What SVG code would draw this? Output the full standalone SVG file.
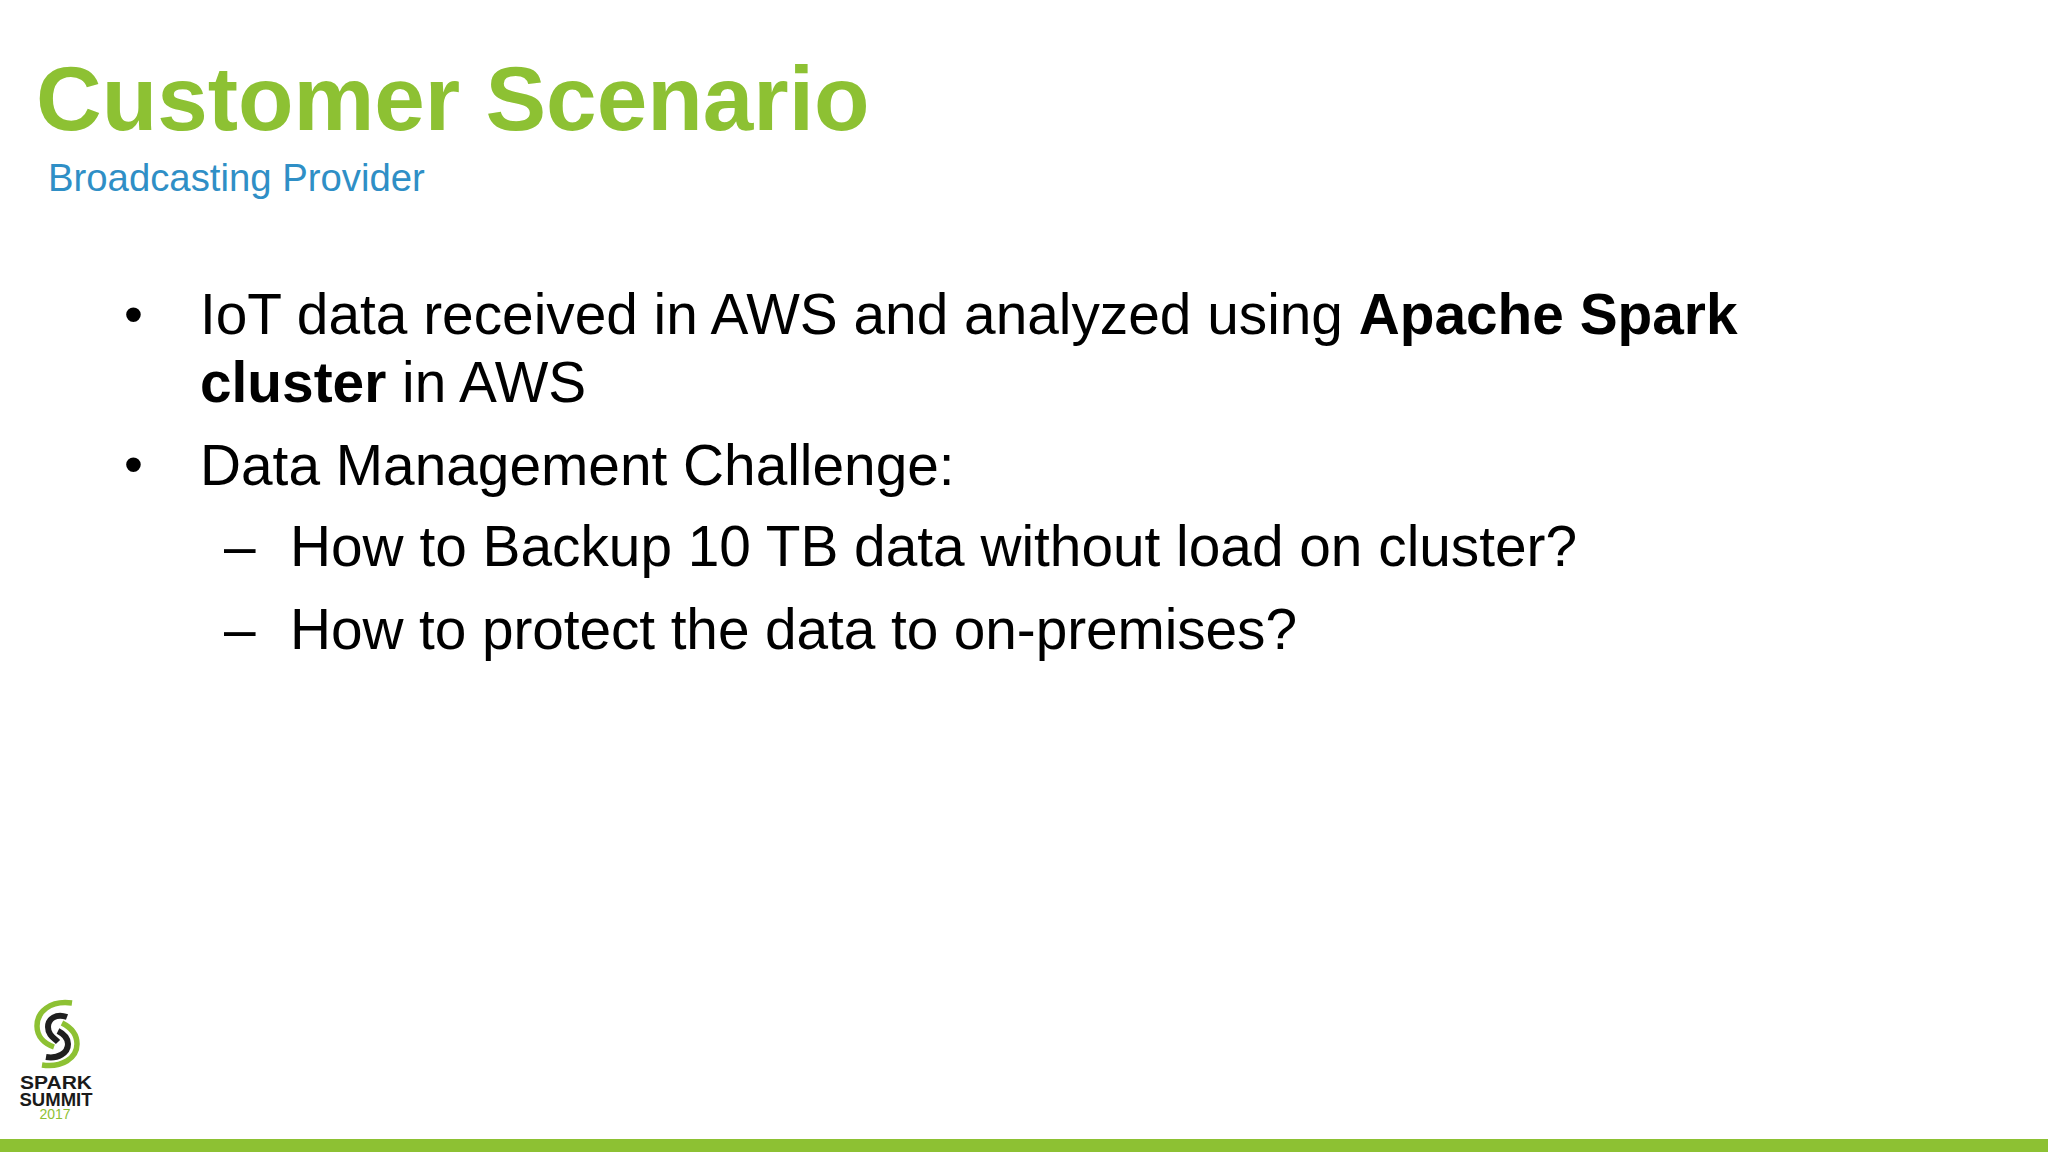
<svg xmlns="http://www.w3.org/2000/svg" width="2048" height="1152" viewBox="0 0 2048 1152">
<style>
text{font-family:"Liberation Sans",Arial,sans-serif}
.b{font-size:56.8px;fill:#000}
.d{font-size:54px;fill:#000}
.g{fill:none;stroke:#8dc133;stroke-width:5.5}
.k{fill:none;stroke:#1f1f1f;stroke-width:6}
.l{font-weight:700;fill:#1a1a1a;text-anchor:middle}
</style>
<rect width="2048" height="1152" fill="#fff"/>
<text x="36" y="130" font-size="90.9" font-weight="700" fill="#8dc133">Customer Scenario</text>
<text x="48" y="191" font-size="38.3" fill="#2f8fc6">Broadcasting Provider</text>
<g id="bullets">
<text class="d" x="124" y="333">•</text>
<text class="b" x="200" y="334">IoT data received in AWS and analyzed using <tspan font-weight="700">Apache Spark</tspan></text>
<text class="b" x="200" y="402"><tspan font-weight="700">cluster</tspan> in AWS</text>
<text class="d" x="124" y="483">•</text>
<text class="b" x="200" y="485">Data Management Challenge:</text>
<text class="b" x="224" y="566">–</text>
<text class="b" x="290" y="566">How to Backup 10 TB data without load on cluster?</text>
<text class="b" x="224" y="649">–</text>
<text class="b" x="290" y="649" textLength="1007">How to protect the data to on-premises?</text>
</g>
<g id="logo">
<path class="g" d="M72 1003C50 1000 37 1012 37 1026C37 1037 45 1044 54 1047"/>
<path class="g" d="M62 1023C72 1028 77 1036 77 1044C77 1058 62 1068 42 1065"/>
<path class="k" d="M67 1017C56 1013 48 1019 48 1027C48 1035 54 1038 58 1042"/>
<path class="k" d="M58 1031C64 1034 68 1039 68 1044C68 1053 58 1059 46 1057"/>
<text class="l" x="56" y="1089" font-size="18" textLength="72" lengthAdjust="spacingAndGlyphs">SPARK</text>
<text class="l" x="56" y="1106" font-size="18" textLength="73" lengthAdjust="spacingAndGlyphs">SUMMIT</text>
<text x="55" y="1119" font-size="14" fill="#8dc133" text-anchor="middle">2017</text>
</g>
<rect id="footer" x="0" y="1139" width="2048" height="13" fill="#8dc133"/>
</svg>
